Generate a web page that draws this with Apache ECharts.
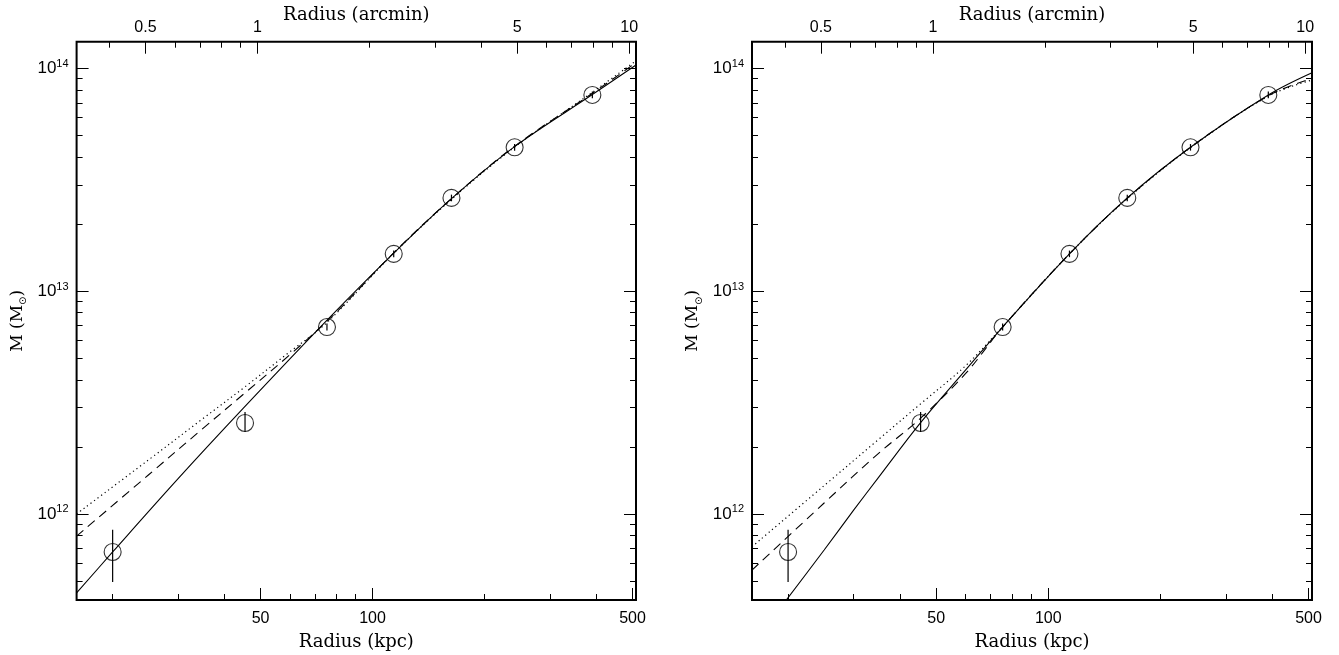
<!DOCTYPE html>
<html><head><meta charset="utf-8">
<script src="https://cdn.jsdelivr.net/npm/echarts@6/dist/echarts.min.js"></script>
<style>html,body{margin:0;padding:0;background:#fff}#c{width:1339px;height:655px}</style>
</head><body><div id="c"></div>
<script>
// ---- axis ranges ----
const kpcMin = 16, kpcMax = 511;
const massMin = 4.11e11, massMax = 1.316e14;
const kpcPerArcmin = 49.0;

// ---- tick values ----
const xMajorKpc = [50, 100, 500];
const xMinorKpc = [20, 30, 40, 60, 70, 80, 90, 200, 300, 400];
const xMajorArcmin = [0.5, 1, 5, 10];
const xMinorArcmin = [0.4, 0.6, 0.7, 0.8, 0.9, 2, 3, 4, 6, 7, 8, 9];
const yMajorMass = [1e12, 1e13, 1e14];
const yMinorMass = [5e11, 6e11, 7e11, 8e11, 9e11, 2e12, 3e12, 4e12, 5e12, 6e12, 7e12, 8e12, 9e12,
                    2e13, 3e13, 4e13, 5e13, 6e13, 7e13, 8e13, 9e13];

// ---- observed points (same in both panels) ----
const radiusKpc = [20, 45.4, 75.4, 114, 163, 241, 390];
const massObs   = [6.75e11, 2.56e12, 6.9e12, 1.47e13, 2.62e13, 4.42e13, 7.59e13];
const massErrLo = [4.95e11, 2.33e12, 6.65e12, 1.42e13, 2.53e13, 4.27e13, 7.33e13];
const massErrHi = [8.49e11, 2.87e12, 7.15e12, 1.52e13, 2.71e13, 4.57e13, 7.86e13];

// ---- left panel models ----
const leftSolidR  = [16, 20, 30, 45, 75, 114, 163, 241, 390, 511];
const leftSolidM  = [4.42e11, 6.75e11, 1.44e12, 2.99e12, 7.33e12, 1.48e13, 2.60e13, 4.45e13, 7.62e13, 1.035e14];
const leftDashR   = [16, 25, 35, 45, 60, 80, 114, 163, 241, 390, 511];
const leftDashM   = [7.95e11, 1.50e12, 2.42e12, 3.45e12, 5.19e12, 8.05e12, 1.486e13, 2.60e13, 4.47e13, 7.72e13, 1.06e14];
const leftDotR    = [16, 25, 35, 45, 60, 75, 114, 163, 241, 390, 511];
const leftDotM    = [1.0e12, 1.75e12, 2.68e12, 3.68e12, 5.35e12, 7.17e12, 1.48e13, 2.58e13, 4.43e13, 7.8e13, 1.08e14];

// ---- right panel models ----
const rightSolidR = [19, 25, 30, 35, 45.4, 60, 75.4, 114, 163, 241, 390, 511];
const rightSolidM = [3.76e11, 6.89e11, 1.04e12, 1.46e12, 2.57e12, 4.43e12, 6.9e12, 1.47e13, 2.62e13, 4.42e13, 7.59e13, 9.55e13];
const rightDashR  = [16, 25, 35, 45.4, 60, 75.4, 114, 163, 241, 390, 511];
const rightDashM  = [5.6e11, 1.12e12, 1.87e12, 2.69e12, 4.27e12, 6.89e12, 1.47e13, 2.61e13, 4.42e13, 7.53e13, 9.0e13];
const rightDotR   = [16, 25, 35, 45.4, 60, 75.4, 114, 163, 241, 390, 511];
const rightDotM   = [7.13e11, 1.34e12, 2.16e12, 3.12e12, 4.63e12, 6.92e12, 1.47e13, 2.60e13, 4.40e13, 7.50e13, 8.86e13];

const L10 = Math.log10;
const TICKFONT = 'Liberation Sans';
const TITLEFONT = 'DejaVu Serif';

const grids = [
  {left: 76.6, top: 41.7, width: 559.4, height: 558.3},
  {left: 752, top: 41.7, width: 560, height: 558.3}
].map(g => Object.assign(g, {show: true, borderColor: '#000', borderWidth: 2, backgroundColor: 'transparent',
                             containLabel: false, outerBoundsMode: 'none'}));

const xAxis = [], yAxis = [], series = [];

function deco(gi, pos, min, max, ticks, len, label, name, nameGap, nameStyle) {
  const a = {
    type: 'value', gridIndex: gi, position: pos, min: min, max: max,
    axisLine: {show: false, onZero: false},
    splitLine: {show: false},
    axisTick: {show: true, inside: true, length: len, customValues: ticks,
               lineStyle: {color: '#000', width: 1}},
    axisLabel: {show: false},
    silent: true
  };
  if (label) {
    a.axisLabel = Object.assign({show: true, color: '#000', fontFamily: TICKFONT, fontSize: 16},
                                label);
  }
  if (name) {
    a.name = name; a.nameLocation = 'middle'; a.nameGap = nameGap;
    a.nameTextStyle = nameStyle; a.nameMoveOverlap = false;
  }
  return a;
}

const titleStyle = {color: '#000', fontFamily: TITLEFONT, fontSize: 18};
const yNameStyle = {
  color: '#000',
  rich: {
    m: {fontFamily: TITLEFONT, fontSize: 17, lineHeight: 22, color: '#000'},
    sub: {fontFamily: 'DejaVu Sans', fontSize: 10, lineHeight: 10, verticalAlign: 'bottom', color: '#000'}
  }
};
const yLabelRich = {
  b: {fontFamily: TICKFONT, fontSize: 17, lineHeight: 20, color: '#000'},
  s: {fontFamily: TICKFONT, fontSize: 11, lineHeight: 11, verticalAlign: 'top', color: '#000'}
};

function addPanel(gi, solidR, solidM, dashR, dashM, dotR, dotM) {
  const xi = xAxis.length;
  xAxis.push({type: 'log', logBase: 10, gridIndex: gi, min: kpcMin, max: kpcMax, show: false});
  const yi = yAxis.length;
  yAxis.push({type: 'log', logBase: 10, gridIndex: gi, min: massMin, max: massMax, show: false});

  const kx = [L10(kpcMin), L10(kpcMax)];
  const ax = [L10(kpcMin / kpcPerArcmin), L10(kpcMax / kpcPerArcmin)];
  const my = [L10(massMin), L10(massMax)];

  xAxis.push(deco(gi, 'bottom', kx[0], kx[1], xMajorKpc.map(L10), 12,
    {customValues: xMajorKpc.map(L10), margin: 11, formatter: v => String(Math.round(Math.pow(10, v)))},
    'Radius (kpc)', 33, titleStyle));
  xAxis.push(deco(gi, 'bottom', kx[0], kx[1], xMinorKpc.map(L10), 6));
  xAxis.push(deco(gi, 'top', ax[0], ax[1], xMajorArcmin.map(L10), 12,
    {customValues: xMajorArcmin.map(L10), margin: 6, formatter: v => String(+Math.pow(10, v).toPrecision(2))},
    'Radius (arcmin)', 17, titleStyle));
  xAxis.push(deco(gi, 'top', ax[0], ax[1], xMinorArcmin.map(L10), 6));

  yAxis.push(deco(gi, 'left', my[0], my[1], yMajorMass.map(L10), 12,
    {customValues: yMajorMass.map(L10), margin: 8, formatter: v => '{b|10}{s|' + Math.round(v) + '}', rich: yLabelRich},
    '{m|M (M}{sub|⊙}{m|)}', 48, yNameStyle));
  yAxis.push(deco(gi, 'left', my[0], my[1], yMinorMass.map(L10), 6));
  yAxis.push(deco(gi, 'right', my[0], my[1], yMajorMass.map(L10), 12));
  yAxis.push(deco(gi, 'right', my[0], my[1], yMinorMass.map(L10), 6));

  const base = {xAxisIndex: xi, yAxisIndex: yi, silent: true, animation: false};
  const pairs = (R, M) => R.map((r, i) => [r, M[i]]);
  series.push(Object.assign({type: 'line', data: pairs(solidR, solidM), showSymbol: false, smooth: 0.35,
    lineStyle: {color: '#000', width: 1.1}, clip: true}, base));
  series.push(Object.assign({type: 'line', data: pairs(dashR, dashM), showSymbol: false, smooth: 0.35,
    lineStyle: {color: '#000', width: 1.1, type: [9, 6]}, clip: true}, base));
  series.push(Object.assign({type: 'line', data: pairs(dotR, dotM), showSymbol: false, smooth: 0.35,
    lineStyle: {color: '#000', width: 1.2, type: [1.2, 3.2]}, clip: true}, base));
  series.push(Object.assign({type: 'custom', data: radiusKpc.map((r, i) => [r, massErrLo[i], massErrHi[i]]),
    encode: {x: 0, y: [1, 2]},
    renderItem: (params, api) => {
      const p1 = api.coord([api.value(0), api.value(1)]);
      const p2 = api.coord([api.value(0), api.value(2)]);
      return {type: 'line', shape: {x1: p1[0], y1: p1[1], x2: p2[0], y2: p2[1]},
              style: {stroke: '#000', lineWidth: 1.2}};
    }}, base));
  series.push(Object.assign({type: 'scatter', data: pairs(radiusKpc, massObs), symbol: 'circle', symbolSize: 17,
    itemStyle: {color: 'rgba(0,0,0,0)', borderColor: '#000', borderWidth: 1.1}}, base));
}

addPanel(0, leftSolidR, leftSolidM, leftDashR, leftDashM, leftDotR, leftDotM);
addPanel(1, rightSolidR, rightSolidM, rightDashR, rightDashM, rightDotR, rightDotM);

const chart = echarts.init(document.getElementById('c'), null, {renderer: 'canvas'});
chart.setOption({animation: false, backgroundColor: '#fff', grid: grids, xAxis: xAxis, yAxis: yAxis, series: series});
</script>
</body></html>
